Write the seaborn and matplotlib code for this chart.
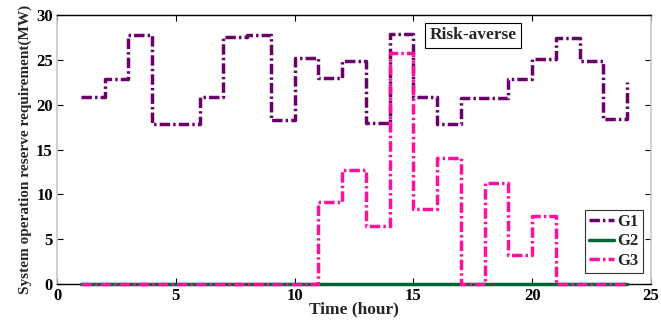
import numpy as np
import pandas as pd
import matplotlib
matplotlib.use('Agg')
import matplotlib.pyplot as plt
import seaborn as sns

# Reserve requirement per hour (MW)
hours = list(range(1, 25))
g1 = [20.8, 22.9, 27.8, 17.8, 17.8, 20.9, 27.5, 27.8, 18.3, 25.2, 23.0, 24.9,
      17.9, 27.9, 20.8, 17.8, 20.7, 20.7, 22.9, 25.1, 27.4, 24.9, 18.4, 22.5]
g2 = [0.0] * 24
g3 = [0, 0, 0, 0, 0, 0, 0, 0, 0, 0, 9.2, 12.7,
      6.5, 25.8, 8.4, 14.1, 0, 11.3, 3.2, 7.6, 0, 0, 0, 0]
units = ['G1', 'G2', 'G3']
x_ticks = [0, 5, 10, 15, 20, 25]
y_ticks = [0, 5, 10, 15, 20, 25, 30]

df = pd.DataFrame({
    'hour': hours * 3,
    'value': g1 + g2 + g3,
    'unit': [u for u in units for _ in hours],
})

sns.set_style('ticks')
plt.rcParams['font.family'] = ['Liberation Serif', 'DejaVu Serif']
plt.rcParams['font.weight'] = 'bold'
plt.rcParams['xtick.direction'] = 'in'
plt.rcParams['ytick.direction'] = 'in'

palette = {'G1': '#6b006b', 'G2': '#006633', 'G3': '#ff0fa0'}
dashes = {'G1': (3.0, 0.9, 0.7, 0.9), 'G2': '', 'G3': (3.0, 0.9, 0.7, 0.9)}

fig = plt.figure(figsize=(6.61, 3.29), dpi=100)
ax = fig.add_axes([57 / 661, 1 - 284 / 329, (651 - 57) / 661, (284 - 15) / 329])

sns.lineplot(data=df, x='hour', y='value', hue='unit', style='unit',
             palette=palette, dashes=dashes, drawstyle='steps-post',
             linewidth=2.5, ax=ax)
# lines sit on top of the bottom spine like the original
for line in ax.lines:
    line.set_clip_on(False)
    line.set_zorder(3)

ax.set_xlim(0, 25)
ax.set_ylim(0, 30)
ax.set_xticks(x_ticks)
ax.set_yticks(y_ticks)
ax.tick_params(axis='both', labelsize=12, length=4, width=0.8, pad=3,
               top=True, right=True, colors='black')
for lab in ax.get_xticklabels() + ax.get_yticklabels():
    lab.set_fontweight('bold')
for side in ['left', 'right']:
    ax.spines[side].set_color('#c8c8c8')
    ax.spines[side].set_linewidth(1.2)
for side in ['top', 'bottom']:
    ax.spines[side].set_color('black')
    ax.spines[side].set_linewidth(1.0)

ax.set_xlabel('Time (hour)', fontsize=12.5, fontweight='bold', labelpad=-2)
ax.set_ylabel('System operation reserve requirement(MW)', fontsize=11,
              fontweight='bold', labelpad=3)

h, l = ax.get_legend_handles_labels()
leg = ax.legend(h, l, loc='lower right', handlelength=1.5, handletextpad=0.2,
                borderpad=0.25, labelspacing=0.2, fancybox=False,
                edgecolor='black', prop={'weight': 'bold', 'size': 12},
                bbox_to_anchor=(0.9865, 0.041), borderaxespad=0)
leg.get_frame().set_linewidth(0.8)
leg.set_zorder(5)

ax.text(0.70, 0.925, 'Risk-averse', transform=ax.transAxes, fontsize=12.5,
        fontweight='bold', ha='center', va='center', zorder=5,
        bbox=dict(boxstyle='square,pad=0.25', facecolor='white',
                  edgecolor='black', linewidth=0.8))

plt.savefig('out.png', dpi=100)
